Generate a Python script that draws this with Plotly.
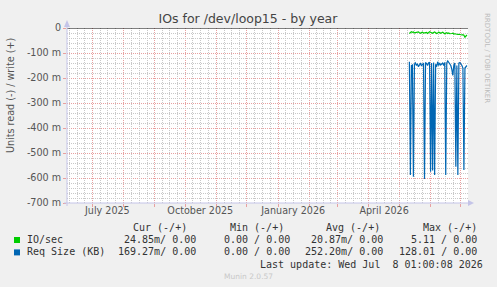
import plotly.graph_objects as go
import pandas as pd

# ---------------- data ----------------
series_start = "2026-05-11"          # first daily sample drawn
io_read_m = [-22, -18, -15, -17, -16, -19, -18, -20, -17, -16,
             -19, -21, -18, -17, -20, -19, -16, -18, -22, -20,
             -15, -17, -19, -21, -18, -16, -19, -22, -20, -17,
             -18, -21, -19, -17, -20, -23, -21, -19, -22, -20,
             -23, -24, -22, -21, -24, -23, -25, -24, -26, -25,
             -27, -26, -28, -27, -29, -37, -30, -28]
req_read_m = [-135, -588, -150, -148, -595, -145, -140, -150, -143, -155,
              -148, -140, -152, -145, -140, -604, -138, -142, -150, -140,
              -137, -575, -140, -570, -138, -588, -145, -155, -135, -150,
              -140, -148, -143, -140, -150, -138, -588, -140, -132, -138,
              -145, -150, -165, -190, -150, -140, -555, -150, -588, -140,
              -138, -142, -150, -160, -568, -160, -152, -150]

x_range = ["2025-06-06 01:00", "2026-07-08 01:00"]
month_starts = ["2025-07-01", "2025-08-01", "2025-09-01", "2025-10-01", "2025-11-01",
                "2025-12-01", "2026-01-01", "2026-02-01", "2026-03-01", "2026-04-01",
                "2026-05-01", "2026-06-01", "2026-07-01"]
label_dates = ["2025-07-16", "2025-10-16", "2026-01-16", "2026-04-16"]
label_text = ["July 2025", "October 2025", "January 2026", "April 2026"]
y_tickvals = [0, -100, -200, -300, -400, -500, -600, -700]
y_ticktext = ["0", "-100 m", "-200 m", "-300 m", "-400 m", "-500 m", "-600 m", "-700 m"]
y_minor_vals = [-20, -40, -60, -80, -120, -140, -160, -180, -220, -240, -260, -280,
                -320, -340, -360, -380, -420, -440, -460, -480, -520, -540, -560, -580,
                -620, -640, -660, -680]

legend_header = ["Cur (-/+)", "Min (-/+)", "Avg (-/+)", "Max (-/+)"]
series_names = ["IO/sec", "Req Size (KB)"]
series_colors = ["#00CC00", "#0066B3"]
cur_vals = ["24.85m/ 0.00", "169.27m/ 0.00"]
min_vals = ["0.00 / 0.00", "0.00 / 0.00"]
avg_vals = ["20.87m/ 0.00", "252.20m/ 0.00"]
max_vals = ["5.11 / 0.00", "128.01 / 0.00"]
last_update = "Last update: Wed Jul  8 01:00:08 2026"

# ---------------- helpers ----------------
W, H = 497, 287
L, R, T, B = 67, 468, 28, 203


def px(x):
    return (x - L) / (R - L)


def py(y):
    return (B - y) / (B - T)


# quarter-month minor grid positions
minor_vals = []
for m in pd.date_range("2025-06-01", "2026-07-01", freq="MS"):
    days = m.days_in_month
    for k in (1, 2, 3):
        minor_vals.append((m + pd.Timedelta(days=days * k / 4)).strftime("%Y-%m-%d %H:%M"))

dates = pd.date_range(series_start, periods=len(req_read_m), freq="D")

fig = go.Figure()
fig.add_trace(go.Scatter(x=dates, y=req_read_m, mode="lines",
                         line=dict(color=series_colors[1], width=1.2), showlegend=False))
fig.add_trace(go.Scatter(x=dates, y=io_read_m, mode="lines",
                         line=dict(color=series_colors[0], width=1.2), showlegend=False))
# helper axes carrying the minor grid and the month labels
fig.add_trace(go.Scatter(x=[], y=[], xaxis="x2", yaxis="y2", showlegend=False))
fig.add_trace(go.Scatter(x=[], y=[], xaxis="x3", showlegend=False))

grid_major = "#E8A0A0"
grid_minor = "#C8C8C8"
tick_font = dict(family="DejaVu Sans", size=9.6, color="#555555")
axis_col = "#C4C4E8"
dot = "1px,1px"

fig.update_layout(
    width=W, height=H,
    margin=dict(l=L, r=W - R, t=T, b=H - B, pad=0),
    paper_bgcolor="#F0F0F0",
    plot_bgcolor="#FFFFFF",
    showlegend=False,
    title=dict(text="IOs for /dev/loop15 - by year", x=248 / W, xref="container",
               y=1 - 19 / H, yref="container", xanchor="center", yanchor="middle",
               font=dict(family="DejaVu Sans", size=12.5, color="#444444")),
    # minor grid axes (drawn first)
    xaxis2=dict(type="date", range=x_range, overlaying="x", side="bottom", tickmode="array",
                tickvals=minor_vals, showticklabels=False, showgrid=True, gridcolor=grid_minor,
                griddash=dot, gridwidth=1, ticks="", zeroline=False, showline=False),
    yaxis2=dict(range=[-700, 0], overlaying="y", side="left", tickmode="array",
                tickvals=y_minor_vals, showticklabels=False, showgrid=True, gridcolor=grid_minor,
                griddash=dot, gridwidth=1, ticks="", zeroline=False, showline=False),
    xaxis=dict(type="date", range=x_range, tickmode="array", tickvals=month_starts,
               showticklabels=False, showgrid=True, gridcolor=grid_major, griddash=dot,
               gridwidth=1, ticks="outside", ticklen=3, tickcolor=grid_major,
               showline=False, zeroline=False, fixedrange=True),
    xaxis3=dict(type="date", range=x_range, overlaying="x", side="bottom", tickmode="array",
                tickvals=label_dates, ticktext=label_text, showgrid=False, ticks="",
                tickfont=tick_font, showline=False, zeroline=False),
    yaxis=dict(range=[-700, 0], tickmode="array", tickvals=y_tickvals, ticktext=y_ticktext,
               showgrid=True, gridcolor=grid_major, griddash=dot, gridwidth=1,
               ticks="outside", ticklen=3, tickcolor=grid_major, tickfont=tick_font,
               showline=False, zeroline=False, fixedrange=True),
)

shapes = []
# zero rule
shapes.append(dict(type="line", xref="paper", yref="y", x0=0, x1=1, y0=0, y1=0,
                   line=dict(color="#000000", width=1.2), layer="above"))
# axes
shapes.append(dict(type="line", xref="paper", yref="paper", x0=0, x1=0, y0=py(206), y1=py(22),
                   line=dict(color=axis_col, width=1), layer="above"))
shapes.append(dict(type="line", xref="paper", yref="paper", x0=px(64), x1=px(471), y0=0, y1=0,
                   line=dict(color=axis_col, width=1), layer="above"))
shapes.append(dict(type="path", xref="paper", yref="paper",
                   path=f"M {px(64)} {py(27)} L {px(70)} {py(27)} L {px(67)} {py(20)} Z",
                   fillcolor=axis_col, line=dict(width=0), layer="above"))
shapes.append(dict(type="path", xref="paper", yref="paper",
                   path=f"M {px(468)} {py(200)} L {px(468)} {py(206)} L {px(474)} {py(203)} Z",
                   fillcolor=axis_col, line=dict(width=0), layer="above"))
# legend squares
for i, col in enumerate(series_colors):
    yc = 240 + i * 12.4
    shapes.append(dict(type="rect", xref="paper", yref="paper",
                       x0=px(14), x1=px(20), y0=py(yc - 3), y1=py(yc + 3),
                       fillcolor=col, line=dict(width=0)))
fig.update_layout(shapes=shapes)

mono = dict(family="DejaVu Sans Mono", size=10, color="#333333")
ann = []


def add_text(text, x, y, xanchor="right", font=mono, **kw):
    ann.append(dict(text=text, x=px(x), y=py(y), xref="paper", yref="paper",
                    xanchor=xanchor, yanchor="middle", showarrow=False, font=font,
                    borderpad=0, **kw))


for txt, xr in zip(legend_header, [188, 285, 381, 478]):
    add_text(txt, xr, 227.3)
for i in range(2):
    yc = 239.5 + i * 12.4
    add_text(series_names[i], 25.5, yc, xanchor="left")
    add_text(cur_vals[i], 197, yc)
    add_text(min_vals[i], 291, yc)
    add_text(avg_vals[i], 384, yc)
    add_text(max_vals[i], 478, yc)
add_text(last_update, 483.5, 264)
add_text("Munin 2.0.57", 248, 276, xanchor="center",
         font=dict(family="DejaVu Sans", size=7.5, color="#C8C8C8"))
add_text("RRDTOOL / TOBI OETIKER", 487, 58, xanchor="center",
         font=dict(family="DejaVu Sans", size=7, color="#BBBBBB"), textangle=90)
add_text("Units read (-) / write (+)", 10, 96, xanchor="center",
         font=dict(family="DejaVu Sans", size=9.6, color="#555555"), textangle=-90)
fig.update_layout(annotations=ann)

fig.write_html("out.html")
